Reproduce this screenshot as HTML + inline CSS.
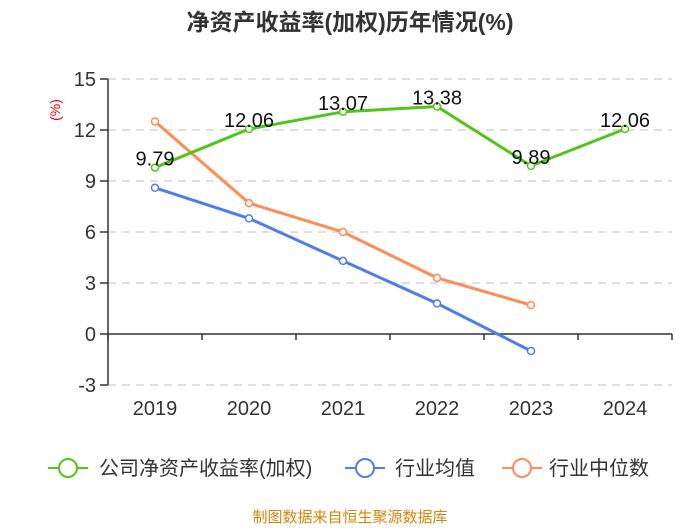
<!DOCTYPE html>
<html><head><meta charset="utf-8"><style>
body{margin:0;background:#fff;font-family:"Liberation Sans","Noto Sans CJK SC",sans-serif;}
svg text{font-family:"Liberation Sans","Noto Sans CJK SC",sans-serif;}
</style></head><body>
<svg id="c" width="700" height="525">
<text x="350" y="30" text-anchor="middle" font-size="23" font-weight="bold" fill="#333">净资产收益率(加权)历年情况(%)</text>
<text x="0" y="0" transform="translate(60,110) rotate(-90)" text-anchor="middle" font-size="14" fill="#e00">(%)</text>
<g id="grid"></g><g id="series"></g>
<g>
<g><line x1="48" y1="468" x2="88" y2="468" stroke="#52c41a" stroke-width="2"/><circle cx="68" cy="468" r="9" fill="#fff" stroke="#52c41a" stroke-width="2"/><text x="99" y="475" font-size="20" fill="#333">公司净资产收益率(加权)</text></g>
<g><line x1="345" y1="468" x2="385" y2="468" stroke="#4e7fe6" stroke-width="2"/><circle cx="365" cy="468" r="9" fill="#fff" stroke="#4e7fe6" stroke-width="2"/><text x="395" y="475" font-size="20" fill="#333">行业均值</text></g>
<g><line x1="502" y1="468" x2="542" y2="468" stroke="#ff8c55" stroke-width="2"/><circle cx="522" cy="468" r="9" fill="#fff" stroke="#ff8c55" stroke-width="2"/><text x="549" y="475" font-size="20" fill="#333">行业中位数</text></g>
</g>
<text x="350" y="522" text-anchor="middle" font-size="15" fill="#d4850a">制图数据来自恒生聚源数据库</text>
</svg>
<script>
const categories=["2019","2020","2021","2022","2023","2024"];
const roeValues=[9.79,12.06,13.07,13.38,9.89,12.06];
const avgValues=[8.6,6.8,4.3,1.8,-1.0];
const medianValues=[12.5,7.7,6.0,3.3,1.7];
const yTicks=[15,12,9,6,3,0,-3];
const NS="http://www.w3.org/2000/svg";
const x0=108,band=94;
const xS=i=>x0+band*(i+0.5);
const yS=v=>334-(v*(334-79)/15);
function mk(t,a,p){const e=document.createElementNS(NS,t);for(const k in a)e.setAttribute(k,a[k]);p.appendChild(e);return e;}
const g=document.getElementById('grid');
yTicks.forEach(v=>{
  if(v!==0){const l=mk('line',{x1:x0,x2:672,y1:yS(v),y2:yS(v),stroke:'#d6d6d6','stroke-dasharray':'8,6','stroke-width':1.5},g);
  
  }
  mk('line',{x1:100,x2:x0,y1:yS(v),y2:yS(v),stroke:'#333','stroke-width':1.5},g);
  const t=mk('text',{x:96,y:yS(v)+7,'text-anchor':'end','font-size':20,fill:'#333'},g);t.textContent=v;
  
  
});
const ya=mk('line',{x1:x0,x2:x0,y1:yS(15),y2:yS(-3),stroke:'#333','stroke-width':1.5},g);


const xa=mk('line',{x1:x0,x2:672,y1:yS(0),y2:yS(0),stroke:'#333','stroke-width':1.5},g);


for(let i=0;i<=categories.length;i++)mk('line',{x1:x0+band*i,x2:x0+band*i,y1:yS(0),y2:yS(0)+6,stroke:'#333','stroke-width':1.5},g);
categories.forEach((c,i)=>{const t=mk('text',{x:xS(i),y:415,'text-anchor':'middle','font-size':20,fill:'#333'},g);t.textContent=c;
  
  });
const s=document.getElementById('series');
function draw(vals,color,name,labels){
  const pl=mk('polyline',{points:vals.map((v,i)=>xS(i)+','+yS(v)).join(' '),fill:'none',stroke:color,'stroke-width':3},s);
  
  
  vals.forEach((v,i)=>{const c=mk('circle',{cx:xS(i),cy:yS(v),r:3.5,fill:'#fff',stroke:color,'stroke-width':1.5},s);
    
    
    if(labels){const t=mk('text',{x:xS(i),y:yS(v)-2,'text-anchor':'middle','font-size':20,fill:'#111'},s);t.textContent=v.toFixed(2);
      
      }
  });
}
draw(avgValues,'#4e7fe6','industry-avg',false);
draw(medianValues,'#ff8c55','industry-median',false);
draw(roeValues,'#52c41a','roe',true);
</script>
</body></html>
